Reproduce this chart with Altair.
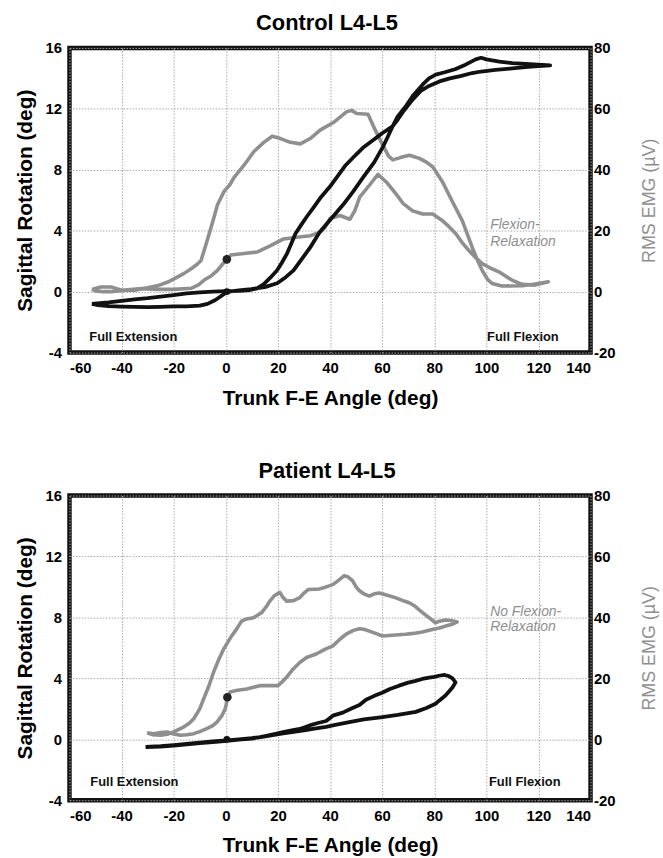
import altair as alt
import pandas as pd

FONT = "Liberation Sans"
BLACK = "#111111"
GRAY = "#8f8f8f"

# ---------------- Control L4-L5 ----------------
# Sagittal rotation loop (trunk angle deg, rotation deg), in path order
ctrl_rot_angle = [-51.4, -45, -40, -35, -30, -25, -20, -15, -10, -5, 0, 5, 9, 12, 14.6, 17, 19.7, 21.5, 23.5, 25, 26.7,
                  29, 31, 34, 36.5, 40, 43, 46, 50, 53, 57, 60, 64,
                  66, 68, 71.7, 75, 78, 82, 86, 90, 94.6, 98, 103.5, 110, 116, 120, 124.5,
                  120, 115, 110, 105, 100, 98, 95.9, 92, 88, 84, 80.6, 78, 75.6, 72, 69.2, 66, 64,
                  62, 60.3, 57, 52.7, 49, 45, 40, 36, 32.4, 29, 26, 23, 19.7, 15, 9.7, 5, 0.5, -1.9, -4, -7,
                  -10, -15, -20, -25, -30, -35, -40, -45, -49, -51.4]
ctrl_rot_deg = [-0.8, -0.7, -0.6, -0.5, -0.42, -0.32, -0.22, -0.12, -0.04, 0.0, 0.03, 0.05, 0.1, 0.22, 0.5, 0.9, 1.4, 1.9, 2.5, 3.1, 3.8,
                4.4, 4.9, 5.6, 6.2, 6.9, 7.6, 8.3, 9.0, 9.5, 10.0, 10.4, 10.85,
                11.3, 11.8, 12.6, 13.2, 13.5, 13.8, 14.0, 14.15, 14.35, 14.45, 14.55, 14.65, 14.75, 14.8, 14.85,
                14.9, 14.95, 15.0, 15.1, 15.25, 15.35, 15.25, 14.9, 14.6, 14.4, 14.25, 14.0, 13.6, 12.9, 12.2, 11.5, 10.85,
                10.1, 9.5, 8.5, 7.5, 6.6, 5.7, 4.7, 3.9, 2.9, 2.1, 1.4, 0.95, 0.55, 0.3, 0.17, 0.08, -0.02, -0.3, -0.55, -0.8,
                -0.92, -0.96, -0.97, -1.0, -1.02, -1.0, -0.98, -0.95, -0.88, -0.8]
# RMS EMG loop (trunk angle deg, EMG uV), in path order
ctrl_emg_angle = [-51.4, -48, -44, -40, -35, -30, -26, -22, -19.7, -16, -13.3, -11, -9.5, -8.5, -7.6, -5.7, -4.5, -3.2,
                  -0.6, 1.5, 3.2, 7, 10.8, 14.6, 17.8, 21, 24.8, 28.6, 32.4, 36.2, 41.3, 46.3, 48.3, 50.2, 54.6, 57.1,
                  60.3, 62.5, 64.1, 67, 70.5, 74.3, 77, 79.4, 83.2, 87, 90.8, 94.6, 96.5, 98.4, 100.5, 102.2, 106,
                  113.7, 118.7, 123.8,
                  118.7, 113.7, 109.8, 104.8, 101, 98.4, 95.5, 93.3, 90.8, 88.3, 85.5, 83.2, 79.4, 75.6, 71.7, 68,
                  65.4, 61.6, 58.4, 55.2, 51.4, 49.5, 47.6, 43.8, 40, 38, 36.2, 32.4, 27.3, 22.2, 17, 12, 7, 1.9, 0.4,
                  -1.5, -3.2, -5.5, -8.3, -10.5, -13.3, -19.7, -26, -32.4, -38.7, -44, -47, -50, -51.4]
ctrl_emg_uv = [0.75, 1.5, 1.5, 0.5, 0.5, 1.25, 2.0, 3.25, 4.3, 6.0, 7.5, 9.0, 10.25, 13.0, 15.5, 21.0, 24.5, 28.5,
               33.0, 35.0, 37.5, 41.5, 46.0, 49.0, 51.0, 50.25, 49.0, 48.5, 50.25, 53.0, 55.5, 59.0, 59.5, 58.5, 58.25, 53.5,
               48.0, 44.5, 43.25, 44.0, 44.75, 43.75, 42.5, 41.0, 36.0, 29.5, 23.25, 14.5, 10.5, 7.0, 4.0, 2.7, 1.85,
               1.95, 2.5, 3.25,
               2.15, 2.4, 3.8, 6.5, 8.0, 9.2, 11.5, 13.5, 16.0, 19.0, 21.5, 23.25, 25.5, 25.5, 26.5, 29.0,
               32.0, 36.0, 38.5, 35.0, 31.0, 26.5, 23.75, 25.0, 24.0, 21.0, 19.5, 18.35, 17.85, 17.3, 15.0, 13.0, 12.5, 12.0, 10.6,
               8.75, 7.0, 5.25, 3.8, 2.25, 1.1, 0.75, 0.75, 1.0, 0.5, 0.0, 0.0, 0.25, 0.75]
ctrl_start_rot = [0.4, 0.0]      # angle, rotation of start marker
ctrl_start_emg = [0.4, 10.6]     # angle, EMG of start marker

# ---------------- Patient L4-L5 ----------------
pat_rot_angle = [-30.8, -25, -20, -15, -10, -5, 0.4, 5, 10, 13.1, 16, 19.5, 22, 25.8, 28.4, 32.2, 35, 38.5, 41.1, 44.9,
                 48, 51.3, 53.8, 57, 60, 63, 66.5, 70, 72.5, 75.4, 78, 80, 81.8, 84, 85.6, 87, 88.2,
                 87, 85.5, 84.3, 82, 80.5, 77, 72.9, 66, 60.1, 53, 47.4, 42, 38.5, 34, 30, 26, 22, 18, 14, 10, 5, 0.4,
                 -5, -10, -15, -20, -25, -30.8]
pat_rot_deg = [-0.5, -0.45, -0.38, -0.3, -0.22, -0.14, -0.07, 0.0, 0.08, 0.15, 0.25, 0.37, 0.47, 0.6, 0.68, 0.91, 1.05, 1.2, 1.55, 1.75,
               2.0, 2.25, 2.6, 2.85, 3.05, 3.3, 3.52, 3.72, 3.82, 3.96, 4.05, 4.1, 4.17, 4.22, 4.15, 4.0, 3.74,
               3.4, 3.1, 2.87, 2.55, 2.33, 2.05, 1.8, 1.6, 1.46, 1.3, 1.13, 0.95, 0.82, 0.7, 0.58, 0.48, 0.38, 0.27, 0.15, 0.05, -0.03, -0.1,
               -0.18, -0.26, -0.34, -0.42, -0.48, -0.52]
pat_emg_angle = [-30.2, -28, -25, -22, -20, -16.2, -14, -12.3, -10, -8.5, -6.5, -4.7, -2.8, -0.9, 0.5, 2.3, 4, 6.1, 8, 10.6,
                 13.7, 15.5, 16.9, 18.5, 20.7, 22, 23.3, 26, 28.4, 30, 31.6, 34, 36, 38.5, 41.1, 43, 45.5, 47, 48.7, 50,
                 51.3, 53, 55.1, 57, 58.9, 62, 65.3, 68, 70.4, 72.5, 74.2, 76, 78, 80.5, 82, 84.3, 86.5, 88.8,
                 87, 84.3, 82, 79.2, 75.4, 72, 69, 65, 60.1, 57.5, 55.1, 53, 51.3, 49, 46.2, 44, 41.1, 38, 34.7, 31,
                 28.4, 25.8, 23.3, 21.5, 20, 16, 13.1, 8, 4, 1.65, 0.6, 0.2, -0.25, -1.5, -3.4, -5, -7.3, -10, -12.3,
                 -15, -17.4, -20, -22.5, -25, -27.6, -30.2]
pat_emg_uv = [2.15, 1.5, 1.3, 1.75, 2.4, 4.0, 5.25, 6.75, 10.0, 13.25, 17.5, 22.0, 26.0, 29.5, 31.5, 34.0, 36.0, 38.8, 39.5, 39.9,
              41.5, 43.5, 45.35, 47.0, 48.25, 46.5, 45.35, 45.5, 46.5, 48.0, 49.15, 49.25, 49.35, 50.0, 50.75, 52.0, 53.7, 53.25, 52.0, 50.0,
              48.75, 47.75, 47.0, 47.75, 48.0, 47.25, 46.4, 45.5, 44.8, 43.75, 42.5, 41.25, 39.9, 38.25, 38.75, 39.15, 39.0, 38.5,
              37.75, 37.15, 36.5, 36.0, 35.2, 34.75, 34.5, 34.25, 33.9, 34.75, 35.5, 36.1, 36.3, 35.75, 34.5, 33.0, 30.65, 29.5, 28.0, 26.85,
              25.2, 23.0, 20.35, 18.75, 17.6, 17.6, 17.6, 16.5, 16.0, 15.5, 13.8, 11.5, 10.0, 7.75, 5.65, 4.5, 3.5, 2.5, 1.85,
              1.5, 1.3, 1.75, 2.4, 2.25, 1.85, 2.15]
pat_start_rot = [0.4, 0.0]
pat_start_emg = [0.6, 13.8]

x_ticks = [-60, -40, -20, 0, 20, 40, 60, 80, 100, 120, 140]
rot_ticks = [-4, 0, 4, 8, 12, 16]
emg_ticks = [-20, 0, 20, 40, 60, 80]

# annotation text positions (angle, rotation)
corner_labels = ["Full Extension", "Full Flexion"]
ctrl_corner_pos = [(-52.4, -3.0), (100.3, -3.0)]
pat_corner_pos = [(-52.0, -2.83), (101.0, -2.79)]
ctrl_note = "Flexion-\nRelaxation"
ctrl_note_pos = (101.5, 4.39)
pat_note = "No Flexion-\nRelaxation"
pat_note_pos = (101.5, 8.35)

HYPHEN = "'' + datum.value"


def df_path(xs, ys):
    return pd.DataFrame({"x": xs, "y": ys, "i": list(range(len(xs)))})


x_enc = alt.X("x:Q", scale=alt.Scale(domain=[-60, 140], nice=False, zero=False),
              axis=alt.Axis(values=x_ticks, title="Trunk F-E Angle (deg)", grid=True,
                            labelPadding=8, titlePadding=12, labelExpr=HYPHEN))
y_rot = alt.Y("y:Q", scale=alt.Scale(domain=[-4, 16], nice=False, zero=False),
              axis=alt.Axis(orient="left", values=rot_ticks, title="Sagittal Rotation (deg)", grid=True,
                            labelPadding=8, titlePadding=10, labelExpr=HYPHEN))
y_emg = alt.Y("y:Q", scale=alt.Scale(domain=[-20, 80], nice=False, zero=False),
              axis=alt.Axis(orient="right", values=emg_ticks, title="RMS EMG (µV)", grid=False,
                            labelPadding=3, titlePadding=44, titleColor=GRAY, titleFontWeight="normal",
                            titleFontSize=18, titleAngle=270, labelExpr=HYPHEN))


def panel(title, rx, ry, ex, ey, srot, semg, corner_pos, note, note_pos, note_lh):
    black = alt.Chart(df_path(rx, ry)).mark_line(color=BLACK, strokeWidth=3.8, strokeJoin="round").encode(
        x=x_enc, y=y_rot, order="i:Q")
    bdot = alt.Chart(pd.DataFrame({"x": [srot[0]], "y": [srot[1]]})).mark_point(
        filled=True, size=45, color=BLACK, opacity=1).encode(x=x_enc, y=y_rot)
    cdf = pd.DataFrame({"x": [p[0] for p in corner_pos], "y": [p[1] for p in corner_pos], "t": corner_labels})
    corner = alt.Chart(cdf).mark_text(align="left", baseline="middle", font=FONT, fontSize=13,
                                      fontWeight="bold", color=BLACK).encode(x=x_enc, y=y_rot, text="t:N")
    ndf = pd.DataFrame({"x": [note_pos[0]], "y": [note_pos[1]], "t": [note]})
    notes = alt.Chart(ndf).mark_text(align="left", baseline="middle", font=FONT, fontSize=14,
                                     fontStyle="italic", color=GRAY, lineBreak="\n",
                                     lineHeight=note_lh).encode(x=x_enc, y=y_rot, text="t:N")
    gray = alt.Chart(df_path(ex, ey)).mark_line(color=GRAY, strokeWidth=3.6, strokeJoin="round").encode(
        x=x_enc, y=y_emg, order="i:Q")
    gdot = alt.Chart(pd.DataFrame({"x": [semg[0]], "y": [semg[1]]})).mark_point(
        filled=True, size=75, color="#222222", opacity=1).encode(x=x_enc, y=y_emg)
    left = alt.layer(black, bdot, corner, notes)
    right = alt.layer(gray, gdot)
    return alt.layer(right, left).resolve_scale(y="independent").properties(
        width=525, height=307,
        title=alt.TitleParams(title, fontSize=22, fontWeight="bold", font=FONT, color="black",
                              anchor="middle", frame="group", dx=-3, offset=6))


top = panel("Control L4-L5", ctrl_rot_angle, ctrl_rot_deg, ctrl_emg_angle, ctrl_emg_uv,
            ctrl_start_rot, ctrl_start_emg, ctrl_corner_pos, ctrl_note, ctrl_note_pos, 17.7)
bottom = panel("Patient L4-L5", pat_rot_angle, pat_rot_deg, pat_emg_angle, pat_emg_uv,
               pat_start_rot, pat_start_emg, pat_corner_pos, pat_note, pat_note_pos, 15)

chart = alt.vconcat(top, bottom, spacing=46).properties(
    padding={"left": 12, "top": 6, "right": 2, "bottom": 2}
).configure_view(stroke=BLACK, strokeWidth=4.5).configure_axis(
    labelFont=FONT, labelFontSize=15, labelFontWeight="bold", labelColor="black",
    titleFont=FONT, titleFontSize=21, titleFontWeight="bold", titleColor="black",
    ticks=False, tickSize=0, domain=False,
    gridColor="#a9a9a9", gridDash=[1.5, 1.5], gridWidth=1
)

chart.save("out.html", embed_options={"renderer": "svg", "actions": False})
